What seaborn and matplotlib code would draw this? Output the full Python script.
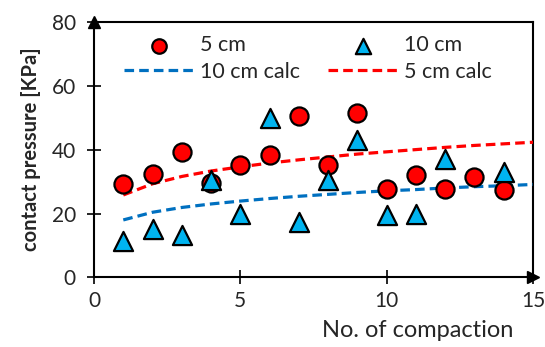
import numpy as np
import pandas as pd
import seaborn as sns
import matplotlib.pyplot as plt

# measured points
compaction = [1, 2, 3, 4, 5, 6, 7, 8, 9, 10, 11, 12, 13, 14]
p_5cm = [29.2, 32.3, 39.2, 29.5, 35.2, 38.3, 50.5, 35.2, 51.4, 27.7, 32.0, 27.7, 31.4, 27.3]

compaction_10 = [1, 2, 3, 4, 5, 6, 7, 8, 9, 10, 11, 12, 14]
p_10cm = [11.4, 15.2, 13.3, 30.5, 19.8, 49.8, 17.3, 30.5, 43.0, 19.5, 19.8, 37.0, 33.0]

# calculated curves
calc_x = [1, 2, 3, 4, 5, 6, 7, 8, 9, 10, 11, 12, 13, 14, 15]
calc_5cm = [25.8, 29.3, 31.6, 33.3, 34.6, 35.8, 36.8, 37.7, 38.6, 39.3, 40.0, 40.7, 41.3, 41.8, 42.3]
calc_10cm = [18.0, 20.4, 21.9, 23.0, 23.9, 24.7, 25.4, 26.0, 26.6, 27.1, 27.5, 28.0, 28.4, 28.7, 29.1]

sns.set_style('white')
plt.rcParams['font.family'] = ['Lato', 'DejaVu Sans']

fig = plt.figure(figsize=(5.45, 3.47), dpi=100)
ax = fig.add_axes([0.1725, 0.2003, 0.8055, 0.7372])

df5 = pd.DataFrame({'x': compaction, 'y': p_5cm})
df10 = pd.DataFrame({'x': compaction_10, 'y': p_10cm})
dc = pd.DataFrame({'x': calc_x, 'c5': calc_5cm, 'c10': calc_10cm})

sns.scatterplot(data=df5, x='x', y='y', ax=ax, marker='o', s=170, color='#FF0000',
                edgecolor='black', linewidth=1.6, label='5 cm', zorder=4)
sns.lineplot(data=dc, x='x', y='c10', ax=ax, color='#0070C0', linewidth=2.3,
             dashes=False, label='10 cm calc', zorder=3)
sns.scatterplot(data=df10, x='x', y='y', ax=ax, marker='^', s=190, color='#00B4F0',
                edgecolor='black', linewidth=1.6, label='10 cm', zorder=5)
sns.lineplot(data=dc, x='x', y='c5', ax=ax, color='#FF0000', linewidth=2.3,
             dashes=False, label='5 cm calc', zorder=3)
for ln in ax.get_lines():
    ln.set_linestyle((0, (3.0, 1.6)))

ax.set_xlim(0, 15)
ax.set_ylim(0, 80)
ax.set_xticks([0, 5, 10, 15])
ax.set_yticks([0, 20, 40, 60, 80])
ax.tick_params(direction='inout', length=10, width=1.2, labelsize=15, color='black',
               left=True, bottom=True)
ax.tick_params(axis='x', pad=5)
ax.tick_params(axis='y', pad=8)
for s in ax.spines.values():
    s.set_color('black')
    s.set_linewidth(1.5)

# axis arrows
ax.plot(1, 0, '>', color='black', markersize=9, transform=ax.transAxes, clip_on=False, zorder=6)
ax.plot(0, 1, '^', color='black', markersize=9, transform=ax.transAxes, clip_on=False, zorder=6)

ax.set_ylabel('contact pressure [KPa]', fontsize=14.5, fontweight='bold')
ax.yaxis.set_label_coords(-0.12, 0.5)
ax.set_xlabel('No. of compaction', fontsize=17)
ax.xaxis.set_label_coords(0.737, -0.165)

h, l = ax.get_legend_handles_labels()
order = [l.index(k) for k in ['5 cm', '10 cm calc', '10 cm', '5 cm calc']]
ax.legend([h[i] for i in order], [l[i] for i in order], ncol=2, frameon=False,
          fontsize=15.5, loc='upper left', bbox_to_anchor=(0.025, 1.022),
          handlelength=3.2, handletextpad=0.33, columnspacing=1.3, labelspacing=0.3,
          markerscale=0.8)

plt.savefig('out.png', dpi=100)
